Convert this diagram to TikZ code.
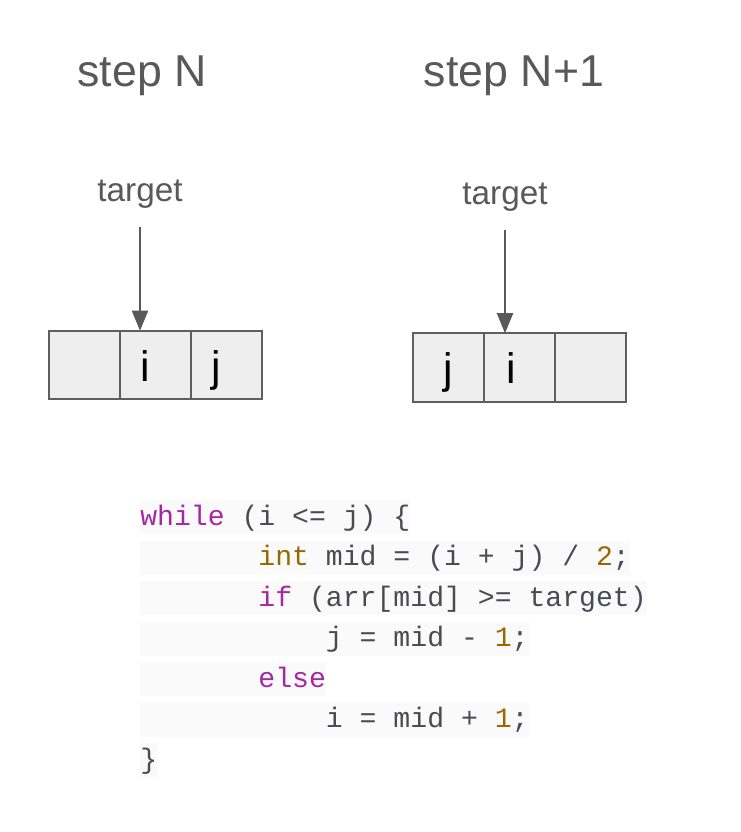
\documentclass[tikz,border=0pt]{standalone}
\usepackage{fontspec}
\setmainfont{Liberation Sans}
\setmonofont{Liberation Mono}
\usetikzlibrary{positioning,arrows.meta,calc}
\definecolor{ink}{HTML}{595959}
\definecolor{cellline}{HTML}{5F5F5F}
\definecolor{cellfill}{HTML}{EEEEEE}
\definecolor{codebg}{HTML}{FAFAFA}
\definecolor{codetext}{HTML}{4A4B52}
\definecolor{kw}{HTML}{A626A4}
\definecolor{num}{HTML}{986801}
\newcommand{\kw}[1]{\textcolor{kw}{#1}}
\newcommand{\num}[1]{\textcolor{num}{#1}}
\newcommand{\ind}[1]{\phantom{#1}}
\tikzset{
	steptitle/.style={text=ink, font=\fontsize{33.5pt}{40pt}\selectfont, inner sep=0pt, anchor=base},
	tgtlabel/.style={text=ink, font=\fontsize{25pt}{30pt}\selectfont, inner sep=0pt, anchor=base},
	cell/.style={draw=cellline, fill=cellfill, line width=1.5pt, minimum width=53.25pt, minimum height=51.4pt, inner sep=0pt, outer sep=0pt},
	cellchar/.style={font=\fontsize{32pt}{38pt}\selectfont, inner sep=0pt, anchor=base},
	ptr/.style={draw=ink, line width=1.5pt, -{Triangle[length=15pt,width=12pt]}, shorten <=14pt},
	codeline/.style={fill=codebg, text=codetext, font=\ttfamily\fontsize{21.1pt}{25pt}\selectfont, inner sep=0pt, text height=18.75pt, text depth=6.75pt, anchor=north west},
}
\begin{document}
\begin{tikzpicture}[x=0.75pt,y=-0.75pt]
	\useasboundingbox (0,0) rectangle (740,832);
	
	% titles
	\node[steptitle] (titleN) at (142,86) {step N};
	\node[steptitle] (titleM) at (514,86) {step N+1};
	
	% step N array
	\node[cell] (cL1) at (84.5,365) {};
	\node[cell, right=0pt of cL1] (cL2) {};
	\node[cell, right=0pt of cL2] (cL3) {};
	\node[cellchar] (iL) at ($(cL2.center)+(-10,16.5)$) {i};
	\node[cellchar] (jL) at ($(cL3.center)+(-10,16.5)$) {j};
	\node[tgtlabel] (tgtL) at (140,201) {target};
	\draw[ptr] (tgtL.south) -- (tgtL.south |- cL2.north);
	
	% step N+1 array
	\node[cell] (cR1) at (448.5,367.5) {};
	\node[cell, right=0pt of cR1] (cR2) {};
	\node[cell, right=0pt of cR2] (cR3) {};
	\node[cellchar] (jR) at ($(cR1.center)+(0,16)$) {j};
	\node[cellchar] (iR) at ($(cR2.center)+(-8,16)$) {i};
	\node[tgtlabel] (tgtR) at (505,204) {target};
	\draw[ptr] (tgtR.south) -- (tgtR.south |- cR2.north);
	
	% code
	\node[codeline] (l1) at (140,500) {\kw{while} (i <= j) \{};
	\node[codeline, below=4.5pt of l1.south west, anchor=north west] (l2) {\ind{1234567}\num{int} mid = (i + j) / \num{2};};
	\node[codeline, below=4.5pt of l2.south west, anchor=north west] (l3) {\ind{1234567}\kw{if} (arr[mid] >= target)};
	\node[codeline, below=4.5pt of l3.south west, anchor=north west] (l4) {\ind{12345678901}j = mid - \num{1};};
	\node[codeline, below=4.5pt of l4.south west, anchor=north west] (l5) {\ind{1234567}\kw{else}};
	\node[codeline, below=4.5pt of l5.south west, anchor=north west] (l6) {\ind{12345678901}i = mid + \num{1};};
	\node[codeline, below=4.5pt of l6.south west, anchor=north west] (l7) {\}};
\end{tikzpicture}
\end{document}
